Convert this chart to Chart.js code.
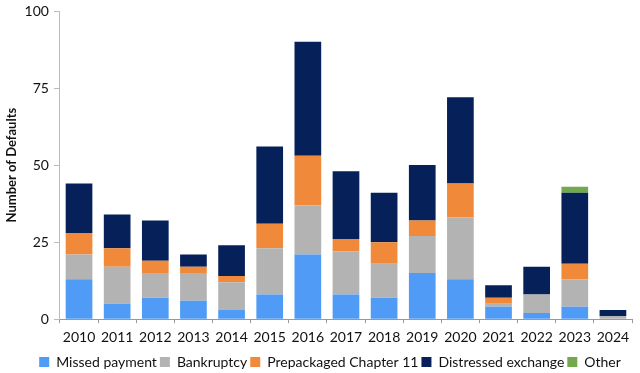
<!DOCTYPE html>
<html>
<head>
<meta charset="utf-8">
<script src="https://cdn.jsdelivr.net/npm/chart.js@4/dist/chart.umd.min.js"></script>
<style>
  html, body { margin: 0; padding: 0; background: #fff; }
  #wrap { width: 640px; height: 373px; }
</style>
</head>
<body>
<div id="wrap"><canvas id="defaults-chart" width="640" height="373"></canvas></div>
<script>
// Years on the x axis
const years = ['2010', '2011', '2012', '2013', '2014', '2015', '2016', '2017', '2018', '2019', '2020', '2021', '2022', '2023', '2024'];

// Defaults by type
const missedPayment = [13, 5, 7, 6, 3, 8, 21, 8, 7, 15, 13, 4, 2, 4, 0];
const bankruptcy = [8, 12, 8, 9, 9, 15, 16, 14, 11, 12, 20, 1, 6, 9, 1];
const prepackaged = [7, 6, 4, 2, 2, 8, 16, 4, 7, 5, 11, 2, 0, 5, 0];
const distressed = [16, 11, 13, 4, 10, 25, 37, 22, 16, 18, 28, 4, 9, 23, 2];
const other = [0, 0, 0, 0, 0, 0, 0, 0, 0, 0, 0, 0, 0, 2, 0];

const yTicks = [0, 25, 50, 75, 100];

// tighten the legend box and nudge it right, like the original
const legendTweak = {
    id: 'legendTweak',
    beforeInit(chart) {
        const legend = chart.legend;
        const fit = legend.fit;
        legend.fit = function () {
            fit.call(this);
            this.height -= 6;
        };
    },
    afterLayout(chart) {
        chart.legend.left += 12;
        chart.legend.right += 12;
    }
};

document.addEventListener("DOMContentLoaded", function () {
    const canvas = document.getElementById('defaults-chart');
    const font = 'Lato, "Liberation Sans", sans-serif';

    new Chart(canvas.getContext('2d'), {
        type: 'bar',
        data: {
            labels: years,
            datasets: [
                { label: 'Missed payment', data: missedPayment, backgroundColor: '#4f9bf5' },
                { label: 'Bankruptcy', data: bankruptcy, backgroundColor: '#b3b3b3' },
                { label: 'Prepackaged Chapter 11', data: prepackaged, backgroundColor: '#f08a3a' },
                { label: 'Distressed exchange', data: distressed, backgroundColor: '#06205a' },
                { label: 'Other', data: other, backgroundColor: '#72a94c' }
            ]
        },
        plugins: [legendTweak],
        options: {
            responsive: false,
            animation: false,
            datasets: {
                bar: {
                    categoryPercentage: 1.0,
                    barPercentage: 0.7,
                    borderWidth: 0
                }
            },
            layout: {
                padding: { left: 4, right: 8, top: 0, bottom: 0 }
            },
            plugins: {
                legend: {
                    display: true,
                    position: 'bottom',
                    labels: {
                        color: '#111',
                        boxWidth: 10,
                        boxHeight: 10,
                        padding: 3,
                        font: { family: font, size: 14 }
                    }
                },
                tooltip: { enabled: false }
            },
            scales: {
                x: {
                    stacked: true,
                    grid: {
                        display: true,
                        drawOnChartArea: false,
                        offset: true,
                        color: '#999',
                        tickLength: 4
                    },
                    border: { color: '#999' },
                    ticks: {
                        color: '#111',
                        padding: 6,
                        maxRotation: 0,
                        autoSkip: false,
                        font: { family: font, size: 14 }
                    }
                },
                y: {
                    stacked: true,
                    min: 0,
                    max: 100,
                    afterBuildTicks: function (axis) {
                        axis.ticks = yTicks.map(v => ({ value: v }));
                    },
                    afterFit: function (axis) {
                        // let the top label overhang like the original
                        axis.paddingTop = 11;
                    },
                    grid: {
                        display: true,
                        drawOnChartArea: false,
                        color: '#bbb',
                        tickLength: 6
                    },
                    border: { color: '#bbb' },
                    title: {
                        display: true,
                        text: 'Number of Defaults',
                        color: '#111',
                        padding: { top: 0, bottom: 0 },
                        font: { family: font, size: 13, weight: 'bold' }
                    },
                    ticks: {
                        color: '#111',
                        padding: 5,
                        font: { family: font, size: 14 }
                    }
                }
            }
        }
    });
});
</script>
</body>
</html>
